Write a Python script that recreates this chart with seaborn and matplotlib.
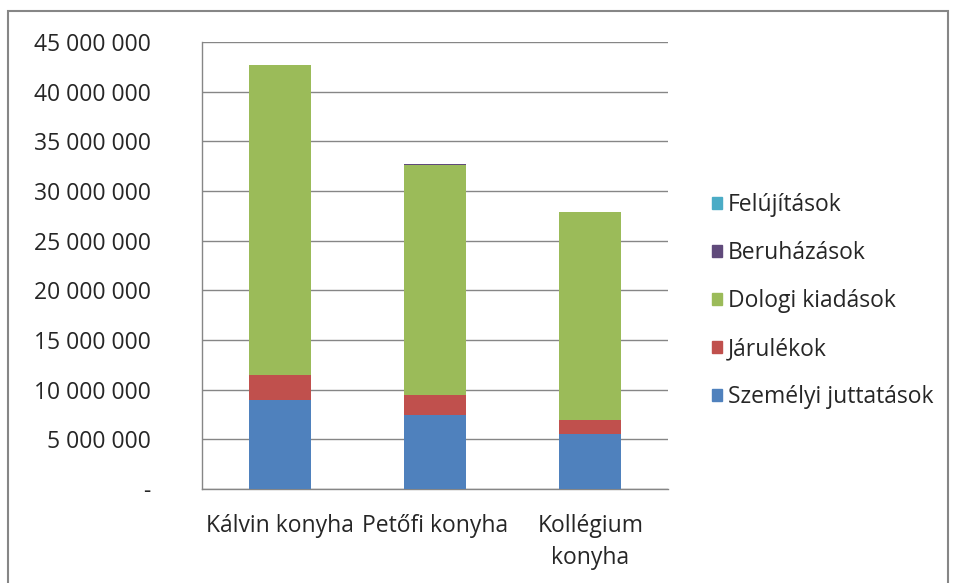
import numpy as np
import pandas as pd
import matplotlib
matplotlib.use('Agg')
import matplotlib.pyplot as plt
import seaborn as sns
from matplotlib.patches import Rectangle
from matplotlib.ticker import FuncFormatter

categories = ['Kálvin konyha', 'Petőfi konyha', 'Kollégium\nkonyha']
szemelyi = [8950000, 7450000, 5550000]
jarulekok = [2550000, 2050000, 1420000]
dologi = [31200000, 23100000, 20930000]
beruhazasok = [0, 120000, 0]
felujitasok = [0, 0, 0]

series = [
    ('Személyi juttatások', szemelyi, '#4f81bd'),
    ('Járulékok', jarulekok, '#c0504d'),
    ('Dologi kiadások', dologi, '#9bbb59'),
    ('Beruházások', beruhazasok, '#604a7b'),
    ('Felújítások', felujitasok, '#4bacc6'),
]

sns.set_style('white')
plt.rcParams['font.family'] = ['Open Sans', 'DejaVu Sans']

fig = plt.figure(figsize=(9.54, 5.83), dpi=100)
ax = fig.add_axes([202/954, 1-489/583, 466/954, 447/583])

# cumulative sums, drawn from the top layer down so lower layers overlap
cum = np.cumsum([s[1] for s in series], axis=0)
for i in range(len(series) - 1, -1, -1):
    df = pd.DataFrame({'cat': categories, 'val': cum[i]})
    sns.barplot(data=df, x='cat', y='val', color=series[i][2], width=0.4,
                saturation=1, ax=ax, zorder=3, linewidth=0)

ax.set_ylim(0, 45000000)
ax.set_xlim(-0.5, 2.5)
ax.set_yticks(np.arange(0, 45000001, 5000000))
ax.yaxis.set_major_formatter(FuncFormatter(
    lambda v, p: '-' if v == 0 else f'{int(v):,}'.replace(',', ' ')))
ax.set_xticks([0, 1, 2])
ax.set_xticklabels(categories, linespacing=1.45)
ax.set_xticks([-0.5, 0.5, 1.5, 2.5], minor=True)
ax.tick_params(axis='x', which='major', length=0, pad=18, labelsize=16.5)
ax.tick_params(axis='x', which='minor', length=8, width=1, color='#868686', direction='out')
ax.tick_params(axis='y', length=8, width=1, color='#868686', direction='out', pad=29, labelsize=16.5)
ax.set_xlabel('')
ax.set_ylabel('')
ax.grid(axis='y', color='#868686', linewidth=1, zorder=0)
ax.set_axisbelow(True)
for s in ['top', 'right']:
    ax.spines[s].set_visible(False)
for s in ['left', 'bottom']:
    ax.spines[s].set_color('#868686')
    ax.spines[s].set_linewidth(1)

handles = [Rectangle((0, 0), 1, 1, color=c) for _, _, c in reversed(series)]
labels = [n for n, _, _ in reversed(series)]
fig.legend(handles, labels, loc='center left', bbox_to_anchor=(712/954, 1-301/583),
           frameon=False, fontsize=16.5, handlelength=0.45, handleheight=0.45,
           handletextpad=0.25, labelspacing=1.05, borderaxespad=0, borderpad=0)

fig.patches.append(Rectangle((8/954, -0.01), 940/954, 1-11/583+0.01, transform=fig.transFigure,
                             fill=False, edgecolor='#868686', linewidth=1.5))

fig.savefig('out.png', dpi=100)
